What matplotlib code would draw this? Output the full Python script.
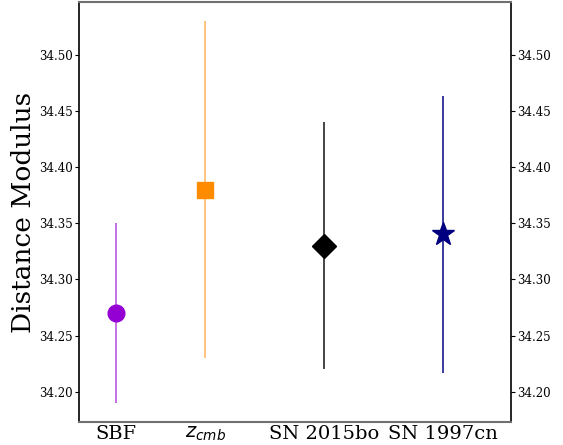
import matplotlib
matplotlib.use("Agg")
import matplotlib.pyplot as plt
from matplotlib.colors import to_rgba

labels = ["SBF", "$z_{cmb}$", "SN 2015bo", "SN 1997cn"]
xpos = [0.0, 0.75, 1.75, 2.75]
mu = [34.27, 34.38, 34.33, 34.34]
err = [0.08, 0.15, 0.11, 0.123]
colors = ["darkviolet", "darkorange", "black", "navy"]
markers = ["o", "s", "D", "*"]
msizes = [12, 12, 12.5, 17]
ealpha = [0.65, 0.6, 0.85, 0.9]

plt.rcParams["font.family"] = "DejaVu Serif"

fig = plt.figure(figsize=(5.63, 4.45), dpi=100)
ax = fig.add_axes([79/563, 23/445, 432/563, 420/445])

for x, m, e, c, mk, ms, ea in zip(xpos, mu, err, colors, markers, msizes, ealpha):
    ax.errorbar(x, m, yerr=e, fmt=mk, color=c, ecolor=to_rgba(c, ea),
                elinewidth=1.2, markersize=ms, zorder=3)

ax.set_xlim(-0.31, 3.32)
ax.set_ylim(34.173, 34.547)
ax.set_xticks(xpos)
ax.set_xticklabels(labels, fontsize=14)
ax.set_yticks([34.20, 34.25, 34.30, 34.35, 34.40, 34.45, 34.50])
ax.set_yticklabels(["34.20", "34.25", "34.30", "34.35", "34.40", "34.45", "34.50"])
ax.tick_params(axis="y", labelsize=8.5, left=True, right=True, labelleft=True,
               labelright=True, length=3, width=0.8, pad=1.5)
ax.tick_params(axis="x", length=0, pad=2)
ax.set_ylabel("Distance Modulus", fontsize=19, labelpad=2)
ax.spines["top"].set_color("#707070")
ax.spines["bottom"].set_color("#707070")
for s in ["top", "bottom"]:
    ax.spines[s].set_linewidth(1.5)
for s in ["left", "right"]:
    ax.spines[s].set_linewidth(1.2)

fig.savefig("out.png", dpi=100)
